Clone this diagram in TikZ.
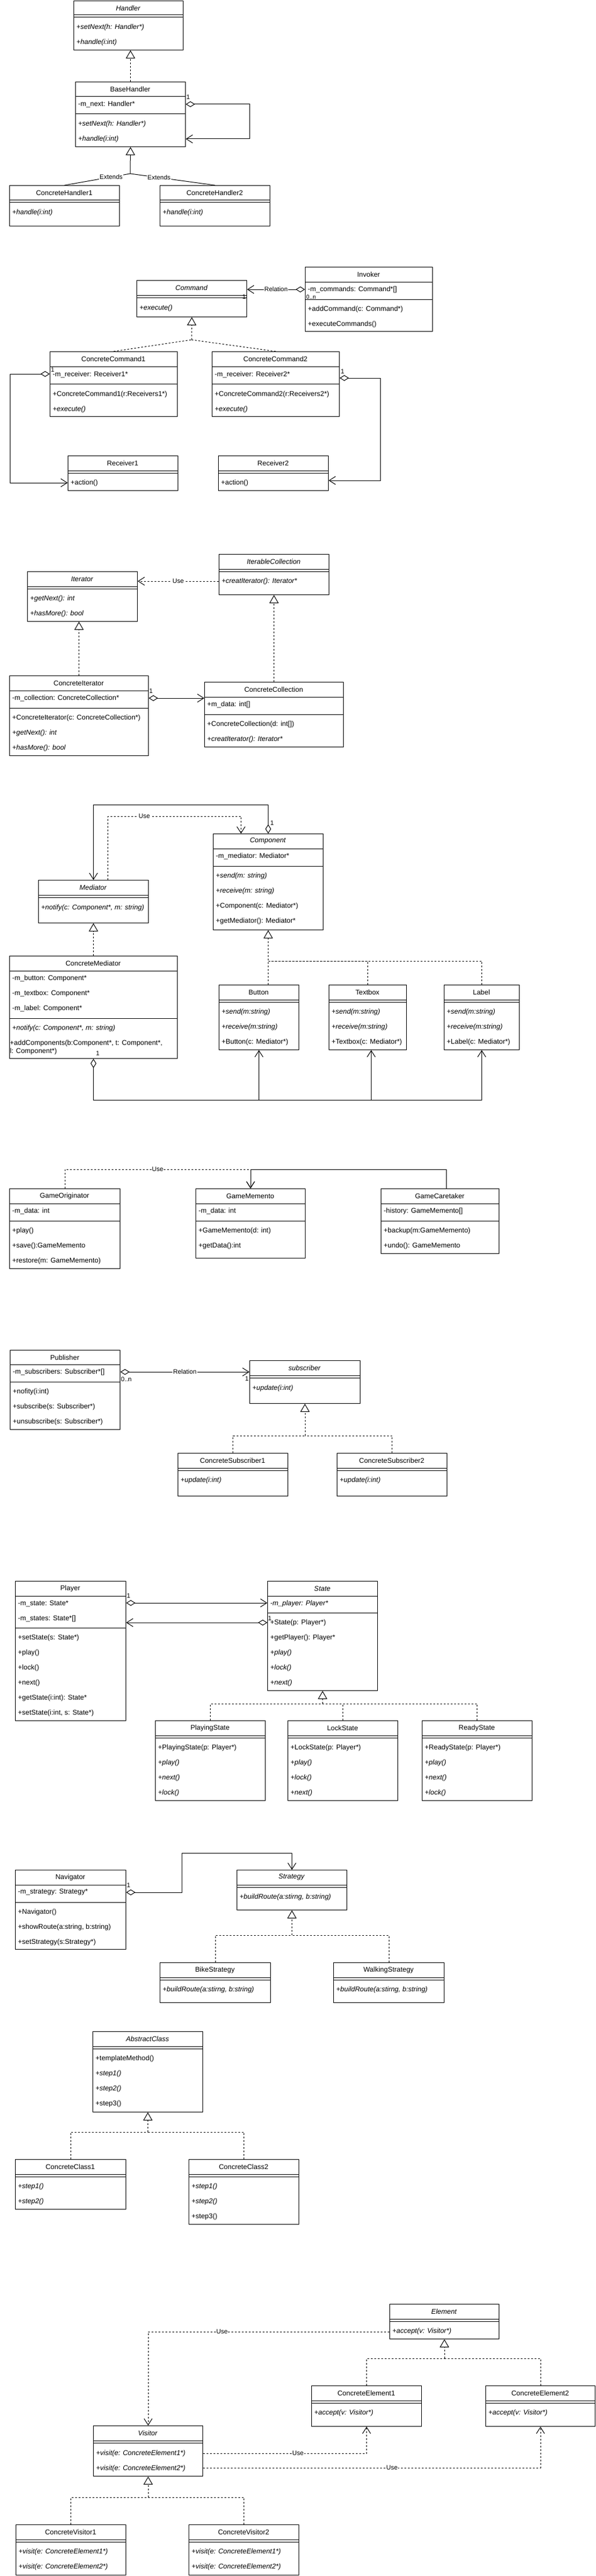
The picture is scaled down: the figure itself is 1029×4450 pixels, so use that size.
\documentclass[tikz,border=0pt]{standalone}
\usepackage{fontspec}
\setmainfont{Liberation Sans}
\usetikzlibrary{arrows.meta,calc}
\newcounter{itemno}
\tikzset{
  every node/.style={font=\fontsize{12}{14}\selectfont, inner sep=0pt, text=black},
  lw/.style={line width=1pt, draw=black},
  umlbox/.style={lw, inner sep=0pt, anchor=north west},
  dsh/.style={dash pattern=on 3pt off 3pt},
  rel/.style={lw, -{Straight Barb[length=11pt,width=14pt]}},
  agg/.style={lw, {Diamond[length=16pt,width=10pt,fill=white]}-{Straight Barb[length=11pt,width=14pt]}},
  gen/.style={lw, -{Triangle[length=14pt,width=16pt,fill=white]}},
  real/.style={gen, dsh},
  use/.style={rel, dsh},
  lbl/.style={fill=white, inner sep=1pt, font=\fontsize{11}{13}\selectfont},
  mult/.style={font=\fontsize{11}{13}\selectfont},
}
\newcommand\ucls[6]{\node[umlbox, minimum width={(#4-#2)*1pt}, minimum height={(#5-#3)*1pt}] (#1) at (#2,#3) {};
  \node (#1-t) at ({(#2+#4)/2},{#3+13}) {#6};}
\newcommand\uhl[2]{\draw[lw] (#1.west |- 0,#2) -- (#1.east |- 0,#2);}
\newcommand\udl[2]{\draw[lw] (#1.west |- 0,#2) -- (#1.east |- 0,#2) (#1.west |- 0,#2+4) -- (#1.east |- 0,#2+4);}
\newcommand\umi[3]{\stepcounter{itemno}\node[anchor=west] (i\arabic{itemno}) at ([xshift=5pt]#1.west |- 0,#2) {#3};}
\begin{document}
\begin{tikzpicture}[x=1pt,y=-1pt]
\fill[white] (0,0) rectangle (1029,4450);
\useasboundingbox (0,0) rectangle (1029,4450);

% ================= Chain of responsibility
\ucls{handler}{127}{1}{316}{86}{\textit{Handler}}
\udl{handler}{26}
\umi{handler}{47}{\textit{+setNext(h: Handler*)}}
\umi{handler}{73}{\textit{+handle(i:int)}}

\ucls{base}{130}{141}{320}{253}{BaseHandler}
\uhl{base}{167}
\umi{base}{180}{-m\_next: Handler*}
\uhl{base}{197}
\umi{base}{214}{\textit{+setNext(h: Handler*)}}
\umi{base}{240}{\textit{+handle(i:int)}}

\ucls{ch1}{16}{320}{206}{390}{ConcreteHandler1}
\udl{ch1}{346}
\umi{ch1}{367}{\textit{+handle(i:int)}}
\ucls{ch2}{276}{320}{466}{390}{ConcreteHandler2}
\udl{ch2}{346}
\umi{ch2}{367}{\textit{+handle(i:int)}}

\draw[real] (base.north) -- (base.north |- handler.south);
\coordinate (j1) at (225,300);
\draw[lw] (ch1.north) -- (j1) node[lbl,pos=0.71] (e1) {Extends};
\draw[lw] (ch2.north) -- (j1) node[lbl,pos=0.66] (e2) {Extends};
\draw[gen] (j1) -- (base.south);
\draw[agg] (base.east |- 0,180) -- ++(110,0) |- (base.east |- 0,240);
\node[mult,anchor=west] (m1) at (322,168) {1};

% ================= Command
\ucls{command}{236}{484}{426}{547}{\textit{Command}}
\udl{command}{510}
\umi{command}{532}{\textit{+execute()}}

\ucls{invoker}{527}{461}{747}{572}{Invoker}
\uhl{invoker}{487}
\umi{invoker}{500}{-m\_commands: Command*[]}
\uhl{invoker}{517}
\umi{invoker}{534}{+addCommand(c: Command*)}
\umi{invoker}{560}{+executeCommands()}
\draw[agg] (invoker.west |- 0,500) -- (command.east |- 0,500) node[lbl,midway] (r1) {Relation};
\node[mult] (m2) at (422,513) {1};
\node[mult,anchor=west,font=\fontsize{10}{12}\selectfont] (m3) at (529,513) {0..n};

\ucls{cc1}{86}{607}{306}{719}{ConcreteCommand1}
\uhl{cc1}{633}
\umi{cc1}{647}{-m\_receiver: Receiver1*}
\uhl{cc1}{663}
\umi{cc1}{681}{+ConcreteCommand1(r:Receivers1*)}
\umi{cc1}{707}{\textit{+execute()}}

\ucls{cc2}{366}{607}{586}{719}{ConcreteCommand2}
\uhl{cc2}{633}
\umi{cc2}{647}{-m\_receiver: Receiver2*}
\uhl{cc2}{663}
\umi{cc2}{681}{+ConcreteCommand2(r:Receivers2*)}
\umi{cc2}{707}{\textit{+execute()}}

\ucls{rec1}{117}{787}{307}{847}{Receiver1}
\udl{rec1}{813}
\umi{rec1}{834}{+action()}
\ucls{rec2}{377}{787}{567}{847}{Receiver2}
\udl{rec2}{813}
\umi{rec2}{834}{+action()}

\coordinate (j2) at (331,587);
\draw[lw,dsh] (cc1.north) -- (j2);
\draw[lw,dsh] (cc2.north) -- (j2);
\draw[real] (j2) -- (command.south);
\draw[agg] (cc1.west |- 0,646) -- ++(-69,0) |- (rec1.west |- 0,834);
\draw[agg] (cc2.east |- 0,653) -- ++(70,0) |- (rec2.east |- 0,830);
\node[mult] (m4) at (91,639) {1};
\node[mult] (m5) at (592,642) {1};

% ================= Iterator
\ucls{itcoll}{378}{957}{568}{1027}{\textit{IterableCollection}}
\udl{itcoll}{983}
\umi{itcoll}{1004}{\textit{+creatIterator(): Iterator*}}

\ucls{iter}{47}{987}{237}{1073}{\textit{Iterator}}
\udl{iter}{1013}
\umi{iter}{1034}{\textit{+getNext(): int}}
\umi{iter}{1060}{\textit{+hasMore(): bool}}
\draw[use] (itcoll.west |- 0,1004) -- (iter.east |- 0,1004) node[lbl,midway] (u1) {Use};

\ucls{citer}{16}{1167}{256}{1305}{ConcreteIterator}
\uhl{citer}{1193}
\umi{citer}{1206}{-m\_collection: ConcreteCollection*}
\uhl{citer}{1223}
\umi{citer}{1240}{+ConcreteIterator(c: ConcreteCollection*)}
\umi{citer}{1266}{\textit{+getNext(): int}}
\umi{citer}{1292}{\textit{+hasMore(): bool}}
\draw[real] (citer.north) -- (citer.north |- iter.south);

\ucls{ccoll}{353}{1178}{593}{1290}{ConcreteCollection}
\uhl{ccoll}{1204}
\umi{ccoll}{1217}{+m\_data: int[]}
\uhl{ccoll}{1234}
\umi{ccoll}{1251}{+ConcreteCollection(d: int[])}
\umi{ccoll}{1277}{\textit{+creatIterator(): Iterator*}}
\draw[real] (ccoll.north) -- (itcoll.south);
\draw[agg] (citer.east |- 0,1206) -- (ccoll.west |- 0,1206);
\node[mult] (m6) at (261,1194) {1};

% ================= Mediator
\ucls{comp}{368}{1440}{558}{1606}{\textit{Component}}
\uhl{comp}{1466}
\umi{comp}{1479}{-m\_mediator: Mediator*}
\uhl{comp}{1496}
\umi{comp}{1513}{\textit{+send(m: string)}}
\umi{comp}{1539}{\textit{+receive(m: string)}}
\umi{comp}{1565}{+Component(c: Mediator*)}
\umi{comp}{1591}{+getMediator(): Mediator*}

\ucls{med}{66}{1520}{256}{1594}{\textit{Mediator}}
\udl{med}{1546}
\umi{med}{1568}{\textit{+notify(c: Component*, m: string)}}

\draw[agg] (comp.north) -- (comp.north |- 0,1390) -| (med.north);
\node[mult,anchor=west] (m7) at (467,1422) {1};
\coordinate (mu1) at ($(med.north)+(25,0)$);
\coordinate (mu2) at ($(comp.north)+(-47,0)$);
\draw[use] (mu1) -- (mu1 |- 0,1410) -| (mu2) node[lbl,pos=0.137] (u2) {Use};

\ucls{cmed}{16}{1651}{306}{1828}{ConcreteMediator}
\uhl{cmed}{1677}
\umi{cmed}{1690}{-m\_button: Component*}
\umi{cmed}{1716}{-m\_textbox: Component*}
\umi{cmed}{1742}{-m\_label: Component*}
\uhl{cmed}{1759}
\umi{cmed}{1776}{\textit{+notify(c: Component*, m: string)}}
\node[anchor=west] (cm1) at (17,1802) {+addComponents(b:Component*, t: Component*,};
\node[anchor=west] (cm2) at (17,1816) {l: Component*)};
\draw[real] (cmed.north) -- (med.south);

\ucls{btn}{378}{1701}{516}{1813}{Button}
\udl{btn}{1727}
\umi{btn}{1748}{\textit{+send(m:string)}}
\umi{btn}{1774}{\textit{+receive(m:string)}}
\umi{btn}{1800}{+Button(c: Mediator*)}

\ucls{tbox}{568}{1701}{702}{1813}{Textbox}
\udl{tbox}{1727}
\umi{tbox}{1748}{\textit{+send(m:string)}}
\umi{tbox}{1774}{\textit{+receive(m:string)}}
\umi{tbox}{1800}{+Textbox(c: Mediator*)}

\ucls{labelcls}{767}{1701}{897}{1813}{Label}
\udl{labelcls}{1727}
\umi{labelcls}{1748}{\textit{+send(m:string)}}
\umi{labelcls}{1774}{\textit{+receive(m:string)}}
\umi{labelcls}{1800}{+Label(c: Mediator*)}

\coordinate (cj) at (comp.south |- 0,1660);
\draw[real] (btn.north -| cj) -- (comp.south);
\draw[lw,dsh] (tbox.north) |- (cj);
\draw[lw,dsh] (labelcls.north) |- (cj);

\coordinate (bj) at (cmed.south |- 0,1900);
\draw[agg] (cmed.south) |- (labelcls.south |- bj) -- (labelcls.south);
\draw[rel] (btn.south |- bj) -- (btn.south);
\draw[rel] ($(tbox.south |- bj)+(6,0)$) -- ($(tbox.south)+(6,0)$);
\node[mult] (m8) at (169,1820) {1};

% ================= Memento
\ucls{orig}{16}{2053}{207}{2191}{GameOriginator}
\uhl{orig}{2079}
\umi{orig}{2092}{-m\_data: int}
\uhl{orig}{2109}
\umi{orig}{2126}{+play()}
\umi{orig}{2152}{+save():GameMemento}
\umi{orig}{2178}{+restore(m: GameMemento)}

\ucls{memento}{338}{2053}{527}{2173}{GameMemento}
\uhl{memento}{2079}
\umi{memento}{2092}{-m\_data: int}
\uhl{memento}{2109}
\umi{memento}{2126}{+GameMemento(d: int)}
\umi{memento}{2152}{+getData():int}

\ucls{caretaker}{658}{2053}{862}{2165}{GameCaretaker}
\uhl{caretaker}{2079}
\umi{caretaker}{2092}{-history: GameMemento[]}
\uhl{caretaker}{2109}
\umi{caretaker}{2126}{+backup(m:GameMemento)}
\umi{caretaker}{2152}{+undo(): GameMemento}

\draw[use] (orig.north) |- (memento.north |- 0,2020) node[lbl,pos=0.75] (u3) {Use} -- (memento.north);
\draw[rel] ($(caretaker.north)+(11,0)$) |- (memento.north |- 0,2020) -- (memento.north);

% ================= Observer
\ucls{pub}{17}{2332}{207}{2469}{Publisher}
\uhl{pub}{2357}
\umi{pub}{2370}{-m\_subscribers: Subscriber*[]}
\uhl{pub}{2387}
\umi{pub}{2404}{+nofity(i:int)}
\umi{pub}{2430}{+subscribe(s: Subscriber*)}
\umi{pub}{2456}{+unsubscribe(s: Subscriber*)}

\ucls{sub}{431}{2350}{622}{2424}{\textit{subscriber}}
\udl{sub}{2376}
\umi{sub}{2398}{\textit{+update(i:int)}}
\draw[agg] (pub.east |- 0,2370) -- (sub.west |- 0,2370) node[lbl,midway] (r2) {Relation};
\node[mult,anchor=west] (m9) at (209,2383) {0..n};
\node[mult,anchor=east] (m10) at (430,2382) {1};

\ucls{cs1}{307}{2510}{497}{2584}{ConcreteSubscriber1}
\udl{cs1}{2536}
\umi{cs1}{2557}{\textit{+update(i:int)}}
\ucls{cs2}{582}{2510}{772}{2584}{ConcreteSubscriber2}
\udl{cs2}{2536}
\umi{cs2}{2557}{\textit{+update(i:int)}}
\coordinate (sj) at (sub.south |- 0,2480);
\draw[real] (sj) -- (sub.south);
\draw[lw,dsh] (cs1.north) |- (sj);
\draw[lw,dsh] (cs2.north) |- (sj);

% ================= State
\ucls{player}{26}{2731}{217}{2972}{Player}
\uhl{player}{2757}
\umi{player}{2770}{-m\_state: State*}
\umi{player}{2796}{-m\_states: State*[]}
\uhl{player}{2812}
\umi{player}{2829}{+setState(s: State*)}
\umi{player}{2855}{+play()}
\umi{player}{2881}{+lock()}
\umi{player}{2907}{+next()}
\umi{player}{2933}{+getState(i:int): State*}
\umi{player}{2959}{+setState(i:int, s: State*)}

\ucls{state}{462}{2731}{652}{2920}{\textit{State}}
\uhl{state}{2757}
\umi{state}{2770}{\textit{-m\_player: Player*}}
\uhl{state}{2786}
\umi{state}{2803}{+State(p: Player*)}
\umi{state}{2829}{+getPlayer(): Player*}
\umi{state}{2855}{\textit{+play()}}
\umi{state}{2881}{\textit{+lock()}}
\umi{state}{2907}{\textit{+next()}}

\draw[agg] (player.east |- 0,2769) -- (state.west |- 0,2769);
\draw[agg] (state.west |- 0,2803) -- (player.east |- 0,2803);
\node[mult,anchor=west] (m11) at (219,2757) {1};
\node[mult,anchor=west] (m12) at (463,2796) {1};

\ucls{pstate}{268}{2972}{458}{3110}{PlayingState}
\udl{pstate}{2998}
\umi{pstate}{3019}{+PlayingState(p: Player*)}
\umi{pstate}{3045}{\textit{+play()}}
\umi{pstate}{3071}{\textit{+next()}}
\umi{pstate}{3097}{\textit{+lock()}}

\ucls{lstate}{497}{2972}{687}{3110}{LockState}
\udl{lstate}{2998}
\umi{lstate}{3019}{+LockState(p: Player*)}
\umi{lstate}{3045}{\textit{+play()}}
\umi{lstate}{3071}{\textit{+lock()}}
\umi{lstate}{3097}{\textit{+next()}}

\ucls{rstate}{729}{2972}{919}{3110}{ReadyState}
\udl{rstate}{2998}
\umi{rstate}{3019}{+ReadyState(p: Player*)}
\umi{rstate}{3045}{\textit{+play()}}
\umi{rstate}{3071}{\textit{+next()}}
\umi{rstate}{3097}{\textit{+lock()}}

\coordinate (stj) at (state.south |- 0,2943);
\draw[real] (stj) -- (state.south);
\draw[lw,dsh] (pstate.north) |- (stj);
\draw[lw,dsh] (rstate.north) |- (stj);
\draw[lw,dsh] (lstate.north) -- (lstate.north |- stj);

% ================= Strategy
\ucls{nav}{26}{3230}{217}{3367}{Navigator}
\uhl{nav}{3256}
\umi{nav}{3269}{-m\_strategy: Strategy*}
\uhl{nav}{3286}
\umi{nav}{3303}{+Navigator()}
\umi{nav}{3329}{+showRoute(a:string, b:string)}
\umi{nav}{3355}{+setStrategy(s:Strategy*)}

\ucls{strat}{409}{3230}{599}{3299}{\textit{Strategy}}
\udl{strat}{3256}
\umi{strat}{3277}{\textit{+buildRoute(a:stirng, b:string)}}
\draw[agg] (nav.east |- 0,3269) -- ++(96,0) |- (strat.north |- 0,3201) -- (strat.north);
\node[mult,anchor=west] (m13) at (219,3257) {1};

\ucls{bike}{276}{3390}{467}{3459}{BikeStrategy}
\udl{bike}{3416}
\umi{bike}{3437}{\textit{+buildRoute(a:stirng, b:string)}}
\ucls{walk}{576}{3390}{767}{3459}{WalkingStrategy}
\udl{walk}{3416}
\umi{walk}{3437}{\textit{+buildRoute(a:stirng, b:string)}}
\coordinate (stgj) at (strat.south |- 0,3343);
\draw[real] (stgj) -- (strat.south);
\draw[lw,dsh] (bike.north) |- (stgj);
\draw[lw,dsh] (walk.north) |- (stgj);

% ================= Template method
\ucls{abs}{160}{3509}{350}{3648}{\textit{AbstractClass}}
\udl{abs}{3535}
\umi{abs}{3556}{+templateMethod()}
\umi{abs}{3582}{\textit{+step1()}}
\umi{abs}{3608}{\textit{+step2()}}
\umi{abs}{3634}{+step3()}

\ucls{ccl1}{26}{3730}{217}{3816}{ConcreteClass1}
\udl{ccl1}{3756}
\umi{ccl1}{3777}{\textit{+step1()}}
\umi{ccl1}{3803}{\textit{+step2()}}
\ucls{ccl2}{326}{3730}{516}{3842}{ConcreteClass2}
\udl{ccl2}{3756}
\umi{ccl2}{3777}{\textit{+step1()}}
\umi{ccl2}{3803}{\textit{+step2()}}
\umi{ccl2}{3829}{+step3()}
\coordinate (tj) at (abs.south |- 0,3683);
\draw[real] (tj) -- (abs.south);
\draw[lw,dsh] (ccl1.north) |- (tj);
\draw[lw,dsh] (ccl2.north) |- (tj);

% ================= Visitor
\ucls{elem}{673}{3980}{862}{4040}{\textit{Element}}
\udl{elem}{4006}
\umi{elem}{4027}{\textit{+accept(v: Visitor*)}}

\ucls{ce1}{538}{4121}{728}{4191}{ConcreteElement1}
\udl{ce1}{4147}
\umi{ce1}{4168}{\textit{+accept(v: Visitor*)}}
\ucls{ce2}{839}{4121}{1028}{4191}{ConcreteElement2}
\udl{ce2}{4147}
\umi{ce2}{4168}{\textit{+accept(v: Visitor*)}}

\ucls{vis}{161}{4190}{350}{4277}{\textit{Visitor}}
\udl{vis}{4216}
\umi{vis}{4238}{\textit{+visit(e: ConcreteElement1*)}}
\umi{vis}{4264}{\textit{+visit(e: ConcreteElement2*)}}

\ucls{cv1}{27}{4361}{217}{4448}{ConcreteVisitor1}
\udl{cv1}{4387}
\umi{cv1}{4408}{\textit{+visit(e: ConcreteElement1*)}}
\umi{cv1}{4434}{\textit{+visit(e: ConcreteElement2*)}}
\ucls{cv2}{326}{4361}{516}{4448}{ConcreteVisitor2}
\udl{cv2}{4387}
\umi{cv2}{4408}{\textit{+visit(e: ConcreteElement1*)}}
\umi{cv2}{4434}{\textit{+visit(e: ConcreteElement2*)}}

\draw[use] (elem.west |- 0,4028) -| (vis.north) node[lbl,pos=0.347] (u4) {Use};
\coordinate (ej) at (elem.south |- 0,4074);
\draw[real] (ej) -- (elem.south);
\draw[lw,dsh] (ce1.north) |- (ej);
\draw[lw,dsh] (ce2.north) |- (ej);
\draw[use] (vis.east |- 0,4238) -| (ce1.south) node[lbl,pos=0.29] (u5) {Use};
\draw[use] (vis.east |- 0,4263) -| (ce2.south) node[lbl,pos=0.28] (u6) {Use};
\coordinate (vj) at (vis.south |- 0,4314);
\draw[real] (vj) -- (vis.south);
\draw[lw,dsh] (cv1.north) |- (vj);
\draw[lw,dsh] (cv2.north) |- (vj);
\end{tikzpicture}
\end{document}
